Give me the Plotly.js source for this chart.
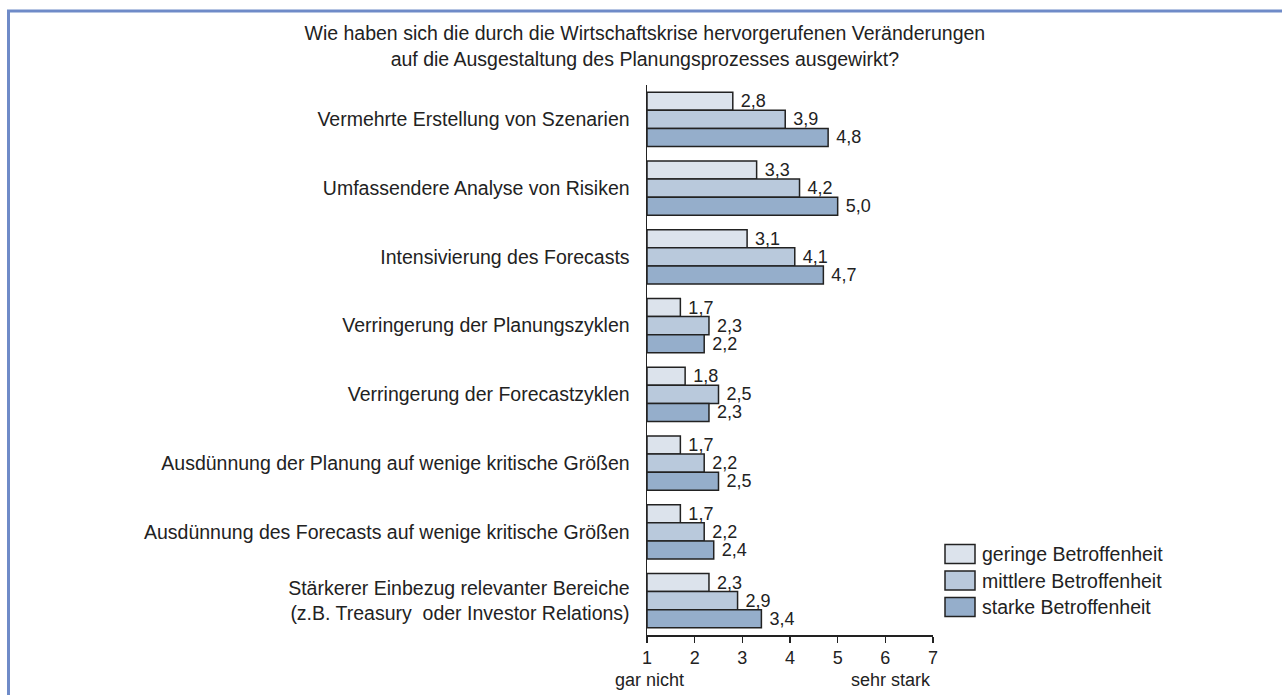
<!DOCTYPE html>
<html>
<head>
<meta charset="utf-8">
<script src="https://cdn.plot.ly/plotly-3.0.1.min.js"></script>
<style>html,body{margin:0;padding:0;background:#fff;}#chart{width:1282px;height:695px;}</style>
</head>
<body>
<div id="chart"></div>
<script>
const categories = [
  "Vermehrte Erstellung von Szenarien",
  "Umfassendere Analyse von Risiken",
  "Intensivierung des Forecasts",
  "Verringerung der Planungszyklen",
  "Verringerung der Forecastzyklen",
  "Ausdünnung der Planung auf wenige kritische Größen",
  "Ausdünnung des Forecasts auf wenige kritische Größen",
  "Stärkerer Einbezug relevanter Bereiche<br>(z.B. Treasury  oder Investor Relations)"
];
const geringe = [2.8, 3.3, 3.1, 1.7, 1.8, 1.7, 1.7, 2.3];
const mittlere = [3.9, 4.2, 4.1, 2.3, 2.5, 2.2, 2.2, 2.9];
const starke = [4.8, 5.0, 4.7, 2.2, 2.3, 2.5, 2.4, 3.4];
const seriesNames = ["geringe Betroffenheit", "mittlere Betroffenheit", "starke Betroffenheit"];
const tickVals = [1, 2, 3, 4, 5, 6, 7];
const titleText = "Wie haben sich die durch die Wirtschaftskrise hervorgerufenen Veränderungen<br>auf die Ausgestaltung des Planungsprozesses ausgewirkt?";

const FS = 19.5;
const colors = ["#DCE3EC", "#B9C9DC", "#95AECB"];
const allSeries = [geringe, mittlere, starke];
const data = allSeries.map((vals, i) => ({
  type: "bar",
  orientation: "h",
  name: seriesNames[i],
  y: categories,
  x: vals.map(v => v - 1),
  base: 1,
  customdata: vals,
  marker: {color: colors[i], line: {color: "#222222", width: 1.5}},
  texttemplate: "\u00A0%{customdata:.1f}",
  textposition: "outside",
  constraintext: "none",
  cliponaxis: false,
  textfont: {family: "Liberation Sans, Arial, sans-serif", size: 18, color: "#222"},
  showlegend: false,
  hoverinfo: "skip"
}));

const L = 647, R = 933, T = 85, B = 635;
const px = v => (v - L) / (R - L);
const py = v => (B - v) / (B - T);

// custom legend (large swatches as in the reference)
const legendRows = [554, 580.5, 607];
const legendShapes = seriesNames.map((n, i) => ({
  type: "rect", xref: "paper", yref: "paper",
  x0: px(945), x1: px(975), y0: py(legendRows[i] - 9.5), y1: py(legendRows[i] + 9.5),
  fillcolor: colors[i], line: {color: "#222", width: 1.5}
}));
const legendTexts = seriesNames.map((n, i) => ({
  text: n, xref: "paper", yref: "paper", x: px(980), y: py(legendRows[i]),
  xanchor: "left", yanchor: "middle", showarrow: false, font: {size: FS, color: "#222"}
}));

const layout = {
  width: 1282, height: 695,
  margin: {l: L, r: 1282 - R, t: T, b: 695 - B},
  paper_bgcolor: "#fff", plot_bgcolor: "#fff",
  separators: ",.",
  font: {family: "Liberation Sans, Arial, sans-serif", size: FS, color: "#222"},
  title: {text: titleText, x: 0.503, xanchor: "center", y: 0.942, yanchor: "top",
          font: {size: FS, color: "#222"}},
  barmode: "group",
  bargap: 0.21,
  bargroupgap: 0,
  showlegend: false,
  xaxis: {range: [1, 7], tickvals: tickVals, ticks: "outside", ticklen: 6, tickwidth: 1.5,
          tickcolor: "#222", showline: true, linecolor: "#222", linewidth: 1.5,
          showgrid: false, zeroline: false, tickfont: {size: 18, color: "#222"}, fixedrange: true},
  yaxis: {autorange: "reversed", showline: true, linecolor: "#222", linewidth: 1.5,
          ticks: "", showgrid: false, zeroline: false, ticklabelstandoff: 12,
          tickfont: {size: FS, color: "#222"}, fixedrange: true},
  annotations: [
    {text: "gar nicht", xref: "paper", yref: "paper", x: px(649), y: py(680), xanchor: "center", yanchor: "middle", showarrow: false, font: {size: 18, color: "#222"}},
    {text: "sehr stark", xref: "paper", yref: "paper", x: px(891), y: py(680), xanchor: "center", yanchor: "middle", showarrow: false, font: {size: 18, color: "#222"}}
  ].concat(legendTexts),
  shapes: [
    {type: "line", xref: "paper", yref: "paper", x0: px(7), x1: px(1282), y0: py(11), y1: py(11), line: {color: "#6F8BC8", width: 3}},
    {type: "line", xref: "paper", yref: "paper", x0: px(8.5), x1: px(8.5), y0: py(10), y1: py(695), line: {color: "#6F8BC8", width: 3}}
  ].concat(legendShapes)
};

Plotly.newPlot("chart", data, layout, {displayModeBar: false, staticPlot: true});
</script>
</body>
</html>
